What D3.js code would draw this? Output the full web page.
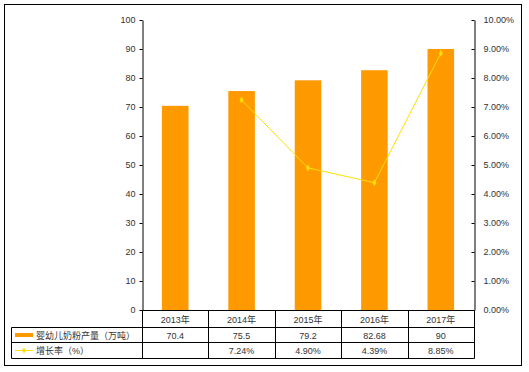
<!DOCTYPE html>
<html>
<head>
<meta charset="utf-8">
<script src="https://cdn.jsdelivr.net/npm/d3@7"></script>
<style>
  body { margin: 0; background: #fff; }
  text { font-family: Arial, "Liberation Sans", "Noto Sans CJK SC", sans-serif; }
</style>
</head>
<body>
<script>
'use strict';

// chart data
const years = ["2013年", "2014年", "2015年", "2016年", "2017年"];
const output = [70.4, 75.5, 79.2, 82.68, 90];
const outputLabels = ["70.4", "75.5", "79.2", "82.68", "90"];
const growth = [null, 0.0724, 0.0490, 0.0439, 0.0885];
const growthLabels = ["", "7.24%", "4.90%", "4.39%", "8.85%"];
const leftTicks = [0, 10, 20, 30, 40, 50, 60, 70, 80, 90, 100];
const rightTicks = [0, 0.01, 0.02, 0.03, 0.04, 0.05, 0.06, 0.07, 0.08, 0.09, 0.10];
const seriesNames = ["婴幼儿奶粉产量（万吨）", "增长率（%）"];

(function() {

  let svg = d3.select('body')
    .append('svg')
    .attr('width', 529)
    .attr('height', 372);

  const barColor = "#FF9900";
  const lineColor = "#FFE000";
  const textColor = "#333";

  // outer frame
  svg.append('rect')
    .attr('x', 4.5).attr('y', 4.5)
    .attr('width', 517).attr('height', 361)
    .attr('fill', 'none')
    .attr('stroke', '#000');

  let x = d3.scaleBand()
    .domain(years)
    .range([142, 474]);

  let yLeft = d3.scaleLinear()
    .domain([0, 100])
    .range([310, 20]);

  let yRight = d3.scaleLinear()
    .domain([0, 0.10])
    .range([310, 20]);

  // left axis
  let leftAxis = d3.axisLeft(yLeft)
    .tickValues(leftTicks)
    .tickSize(3)
    .tickPadding(4)
    .tickSizeOuter(0);

  let gl = svg.append('g')
    .attr('transform', 'translate(142.5, 0)')
    .call(leftAxis);
  gl.select('.domain').attr('stroke', '#000');
  gl.selectAll('text').style('font-size', '9px').attr('fill', textColor);

  // right axis
  let rightAxis = d3.axisRight(yRight)
    .tickValues(rightTicks)
    .tickFormat(d3.format('.2%'))
    .tickSize(-3)
    .tickPadding(9)
    .tickSizeOuter(0);

  let gr = svg.append('g')
    .attr('transform', 'translate(474.5, 0)')
    .call(rightAxis);
  gr.select('.domain').attr('stroke', '#000');
  gr.selectAll('text').style('font-size', '9px').attr('fill', textColor);

  // bars
  svg.selectAll('.bar')
    .data(output)
    .enter()
    .append('rect')
    .attr('class', 'bar')
    .attr('x', (d, i) => x(years[i]) + x.bandwidth() * 0.3)
    .attr('y', d => yLeft(d))
    .attr('width', x.bandwidth() * 0.4)
    .attr('height', d => yLeft(0) - yLeft(d))
    .attr('fill', barColor);

  // growth line
  let pts = growth.map((g, i) => ({ g: g, yr: years[i] })).filter(d => d.g !== null);
  let line = d3.line()
    .x(d => x(d.yr) + x.bandwidth() / 2)
    .y(d => yRight(d.g));

  svg.append('path')
    .datum(pts)
    .attr('d', line)
    .attr('fill', 'none')
    .attr('stroke', lineColor)
    .attr('stroke-width', 1);

  svg.selectAll('.pt')
    .data(pts)
    .enter()
    .append('path')
    .attr('class', 'pt')
    .attr('d', d3.symbol().type(d3.symbolDiamond).size(14))
    .attr('transform', d => 'translate(' + (x(d.yr) + x.bandwidth() / 2) + ',' + yRight(d.g) + ')')
    .attr('fill', lineColor);

  // data table
  const tableLeft = 11.5;
  const rows = [310.5, 327.5, 342.5, 358.5];
  const right = 474.5;

  // horizontal lines
  svg.append('line')
    .attr('x1', 142.5).attr('x2', right)
    .attr('y1', rows[0]).attr('y2', rows[0])
    .attr('stroke', '#000');
  for (let r = 1; r < rows.length; r++) {
    svg.append('line')
      .attr('x1', tableLeft).attr('x2', right)
      .attr('y1', rows[r]).attr('y2', rows[r])
      .attr('stroke', '#000');
  }
  // vertical lines
  svg.append('line')
    .attr('x1', tableLeft).attr('x2', tableLeft)
    .attr('y1', rows[1]).attr('y2', rows[3])
    .attr('stroke', '#000');
  years.forEach((yr) => {
    let xx = Math.round(x(yr)) + 0.5;
    svg.append('line')
      .attr('x1', xx).attr('x2', xx)
      .attr('y1', rows[0]).attr('y2', rows[3])
      .attr('stroke', '#000');
  });
  svg.append('line')
    .attr('x1', right).attr('x2', right)
    .attr('y1', rows[0]).attr('y2', rows[3])
    .attr('stroke', '#000');

  // header row
  svg.selectAll('.yr')
    .data(years)
    .enter()
    .append('text')
    .attr('x', d => x(d) + x.bandwidth() / 2)
    .attr('y', (rows[0] + rows[1]) / 2 + 3.5)
    .attr('text-anchor', 'middle')
    .style('font-size', '9px')
    .attr('fill', textColor)
    .text(d => d);

  // value rows
  svg.selectAll('.v1')
    .data(outputLabels)
    .enter()
    .append('text')
    .attr('x', (d, i) => x(years[i]) + x.bandwidth() / 2)
    .attr('y', (rows[1] + rows[2]) / 2 + 3.5)
    .attr('text-anchor', 'middle')
    .style('font-size', '9px')
    .attr('fill', textColor)
    .text(d => d);

  svg.selectAll('.v2')
    .data(growthLabels)
    .enter()
    .append('text')
    .attr('x', (d, i) => x(years[i]) + x.bandwidth() / 2)
    .attr('y', (rows[2] + rows[3]) / 2 + 3.5)
    .attr('text-anchor', 'middle')
    .style('font-size', '9px')
    .attr('fill', textColor)
    .text(d => d);

  // legend keys inside table
  svg.append('rect')
    .attr('x', 15).attr('y', (rows[1] + rows[2]) / 2 - 2)
    .attr('width', 18).attr('height', 4)
    .attr('fill', barColor);

  svg.append('line')
    .attr('x1', 15).attr('x2', 33)
    .attr('y1', (rows[2] + rows[3]) / 2).attr('y2', (rows[2] + rows[3]) / 2)
    .attr('stroke', lineColor);
  svg.append('path')
    .attr('d', d3.symbol().type(d3.symbolDiamond).size(12))
    .attr('transform', 'translate(24,' + (rows[2] + rows[3]) / 2 + ')')
    .attr('fill', lineColor);

  svg.append('text')
    .attr('x', 36).attr('y', (rows[1] + rows[2]) / 2 + 3.5)
    .style('font-size', '9px')
    .attr('fill', textColor)
    .text(seriesNames[0]);

  svg.append('text')
    .attr('x', 36).attr('y', (rows[2] + rows[3]) / 2 + 3.5)
    .style('font-size', '9px')
    .attr('fill', textColor)
    .text(seriesNames[1]);

})();
</script>
</body>
</html>
